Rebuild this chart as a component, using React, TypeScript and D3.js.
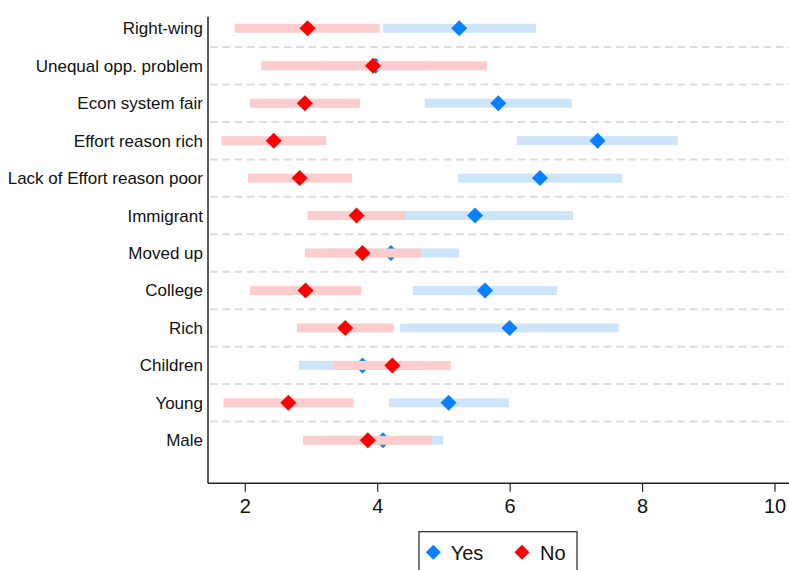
import React from "react";
import * as d3 from "d3";

const categories = [
  "Right-wing",
  "Unequal opp. problem",
  "Econ system fair",
  "Effort reason rich",
  "Lack of Effort reason poor",
  "Immigrant",
  "Moved up",
  "College",
  "Rich",
  "Children",
  "Young",
  "Male",
];

const yesMean = [5.23, 3.97, 5.82, 7.32, 6.45, 5.47, 4.2, 5.62, 5.99, 3.77, 5.07, 4.08];
const yesLo = [4.08, 3.2, 4.71, 6.1, 5.21, 4.0, 3.2, 4.53, 4.34, 2.81, 4.17, 3.2];
const yesHi = [6.39, 4.75, 6.93, 8.53, 7.69, 6.95, 5.23, 6.71, 7.64, 4.73, 5.98, 4.99];

const noMean = [2.94, 3.93, 2.9, 2.43, 2.82, 3.68, 3.77, 2.91, 3.51, 4.22, 2.65, 3.85];
const noLo = [1.84, 2.24, 2.07, 1.64, 2.04, 2.94, 2.9, 2.07, 2.78, 3.34, 1.67, 2.87];
const noHi = [4.03, 5.65, 3.73, 3.22, 3.61, 4.42, 4.65, 3.75, 4.24, 5.1, 3.63, 4.82];

const xTicks = [2, 4, 6, 8, 10];
const legendLabels = ["Yes", "No"];

const W = 789;
const H = 570;
const left = 208;
const right = 789;
const top = 16.7;
const bottom = 483.3;

const BLUE = "#0a80ff";
const RED = "#ff0000";
const BLUE_BAR = "#cde5fb";
const RED_BAR = "#fdcccc";
const FONT = "'Liberation Sans', Arial, Helvetica, sans-serif";

const diamond = (cx: number, cy: number, r: number) =>
  `M${cx},${cy - r}L${cx + r},${cy}L${cx},${cy + r}L${cx - r},${cy}Z`;

export default function App() {
  const x = d3
    .scaleLinear()
    .domain([2, 10])
    .range([245.3, 775]);
  const y = d3.scalePoint<string>().domain(categories).range([28.3, 440.3]);
  const step = y.step();
  const barH = 9;
  const r = 8;

  const series = [
    { lo: yesLo, hi: yesHi, mean: yesMean, bar: BLUE_BAR, color: BLUE },
    { lo: noLo, hi: noHi, mean: noMean, bar: RED_BAR, color: RED },
  ];

  return (
    <svg
      width={W}
      height={H}
      style={{ position: "absolute", left: 0, top: 0, background: "#fff" }}
      fontFamily={FONT}
    >
      <rect x={0} y={0} width={W} height={H} fill="#fff" />
      {/* dashed separators */}
      {categories.slice(0, -1).map((c, i) => {
        const yy = (y(c) as number) + step / 2;
        return (
          <line
            key={"g" + i}
            x1={left + 2}
            x2={right}
            y1={yy}
            y2={yy}
            stroke="#dcdcdc"
            strokeWidth={2}
            strokeDasharray="7.7,4.6"
          />
        );
      })}
      {/* series */}
      {series.map((s, si) => (
        <g key={"s" + si}>
          {categories.map((c, i) => (
            <rect
              key={"b" + i}
              x={x(s.lo[i])}
              y={(y(c) as number) - barH / 2}
              width={x(s.hi[i]) - x(s.lo[i])}
              height={barH}
              fill={s.bar}
            />
          ))}
          {categories.map((c, i) => (
            <path
              key={"d" + i}
              d={diamond(x(s.mean[i]), y(c) as number, r)}
              fill={s.color}
            />
          ))}
        </g>
      ))}
      {/* axes */}
      <line x1={left} x2={left} y1={top} y2={bottom} stroke="#222" strokeWidth={1.5} />
      <line x1={left} x2={right} y1={bottom} y2={bottom} stroke="#222" strokeWidth={1.5} />
      {categories.map((c, i) => (
        <text
          key={"l" + i}
          x={203}
          y={(y(c) as number) + 6}
          textAnchor="end"
          fontSize={17}
          fill="#111"
        >
          {c}
        </text>
      ))}
      {xTicks.map((t) => (
        <g key={"t" + t}>
          <line x1={x(t)} x2={x(t)} y1={bottom} y2={bottom + 8.5} stroke="#222" strokeWidth={1.2} />
          <text x={x(t)} y={513} textAnchor="middle" fontSize={20} fill="#111">
            {t}
          </text>
        </g>
      ))}
      {/* legend */}
      <rect x={419} y={531.7} width={158} height={50} fill="#fff" stroke="#222" strokeWidth={1.2} />
      <path d={diamond(433.3, 552.3, 7.5)} fill={BLUE} />
      <text x={450.7} y={559.5} fontSize={20} fill="#111">
        {legendLabels[0]}
      </text>
      <path d={diamond(522, 552.3, 7.5)} fill={RED} />
      <text x={540} y={559.5} fontSize={20} fill="#111">
        {legendLabels[1]}
      </text>
    </svg>
  );
}
